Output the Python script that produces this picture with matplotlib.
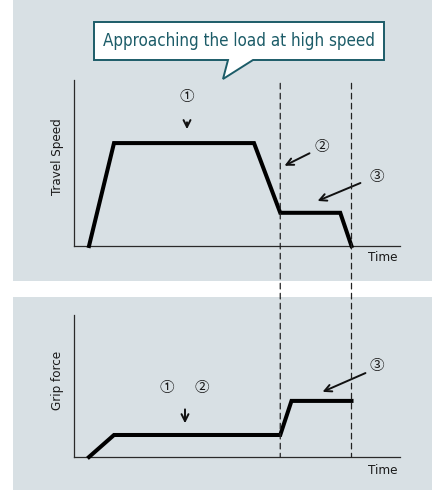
import matplotlib.pyplot as plt
from matplotlib.patches import Rectangle, Polygon, ConnectionPatch

# data (arbitrary units)
speed_t = [0.6, 1.6, 7.2, 8.25, 10.65, 11.1]
speed_v = [0, 6.2, 6.2, 2.0, 2.0, 0]
grip_t = [0.6, 1.6, 8.25, 8.7, 11.1]
grip_v = [0, 1.55, 1.55, 3.95, 3.95]
marker_t = [8.25, 11.1]

W, H = 432, 490
bg = '#d8e0e4'
teal = '#1c5c68'
narrow = dict(family='DejaVu Sans', stretch='condensed')

fig = plt.figure(figsize=(W / 100, H / 100), dpi=100)

def px(x0, y0, x1, y1):
    # pixel box (top-left origin) -> figure fraction
    return (x0 / W, 1 - y1 / H, (x1 - x0) / W, (y1 - y0) / H)

# panel backgrounds
for box in [px(13, 0, 432, 281), px(13, 297, 432, 490)]:
    fig.patches.append(Rectangle(box[:2], box[2], box[3], transform=fig.transFigure,
                                 facecolor=bg, edgecolor='none', zorder=-2))

ax1 = fig.add_axes(px(74, 80, 400, 246))
ax2 = fig.add_axes(px(74, 315, 400, 457))

for ax in (ax1, ax2):
    ax.set_xlim(0, 13.04)
    ax.set_ylim(0, 10)
    ax.patch.set_visible(False)
    for s in ['top', 'right']:
        ax.spines[s].set_visible(False)
    for s in ['left', 'bottom']:
        ax.spines[s].set_color('#2a2a2a')
        ax.spines[s].set_linewidth(0.9)
    ax.set_xticks([])
    ax.set_yticks([])

ax1.plot(speed_t, speed_v, color='black', lw=2.9, solid_joinstyle='miter', clip_on=False, zorder=3)
ax2.plot(grip_t, grip_v, color='black', lw=2.9, solid_joinstyle='miter', clip_on=False, zorder=3)

# dashed markers running across both panels
for t in marker_t:
    con = ConnectionPatch(xyA=(t, 9.8), coordsA=ax1.transData,
                          xyB=(t, 0), coordsB=ax2.transData,
                          color='#222222', lw=0.9, linestyle=(0, (4.5, 3.5)), zorder=2)
    fig.add_artist(con)

lab = dict(fontsize=9.5, color='#1a1a1a', ha='center', va='center', **narrow)
ax1.text(-0.68, 5.36, 'Travel Speed', rotation=90, **lab)
ax2.text(-0.68, 5.42, 'Grip force', rotation=90, **lab)
ax1.text(12.36, -0.72, 'Time', clip_on=False, **lab)
ax2.text(12.36, -0.92, 'Time', clip_on=False, **lab)

num = dict(fontsize=10.5, color='#1a1a1a', ha='center', va='center',
           family=['Noto Sans CJK JP', 'DejaVu Sans'])
arr = dict(arrowstyle='->,head_length=0.5,head_width=0.25', color='#111111', lw=1.4)

ax1.text(4.52, 8.98, '\u2460', **num)
ax1.annotate('', xy=(4.52, 6.87), xytext=(4.52, 7.62), arrowprops=arr)
ax1.text(9.92, 5.96, '\u2461', **num)
ax1.annotate('', xy=(8.32, 4.76), xytext=(9.52, 5.66), arrowprops=arr)
ax1.text(12.12, 4.16, '\u2462', **num)
ax1.annotate('', xy=(9.64, 2.65), xytext=(11.56, 3.86), arrowprops=arr)

ax2.text(3.72, 4.86, '\u2460', **num)
ax2.text(5.12, 4.86, '\u2461', **num)
ax2.annotate('', xy=(4.44, 2.18), xytext=(4.44, 3.55), arrowprops=arr)
ax2.text(12.12, 6.41, '\u2462', **num)
ax2.annotate('', xy=(9.84, 4.51), xytext=(11.76, 5.99), arrowprops=arr)

# callout bubble
pts = [(94, 22), (384, 22), (384, 60), (253, 60), (223, 79), (228, 60), (94, 60)]
pts = [(x / W, 1 - y / H) for x, y in pts]
fig.patches.append(Polygon(pts, closed=True, transform=fig.transFigure, facecolor='white',
                           edgecolor=teal, lw=1.4, zorder=5))
fig.text(239 / W, 1 - 41 / H, 'Approaching the load at high speed', fontsize=12.2,
         color=teal, ha='center', va='center', zorder=6, **narrow)

fig.savefig('out.png', dpi=100)
